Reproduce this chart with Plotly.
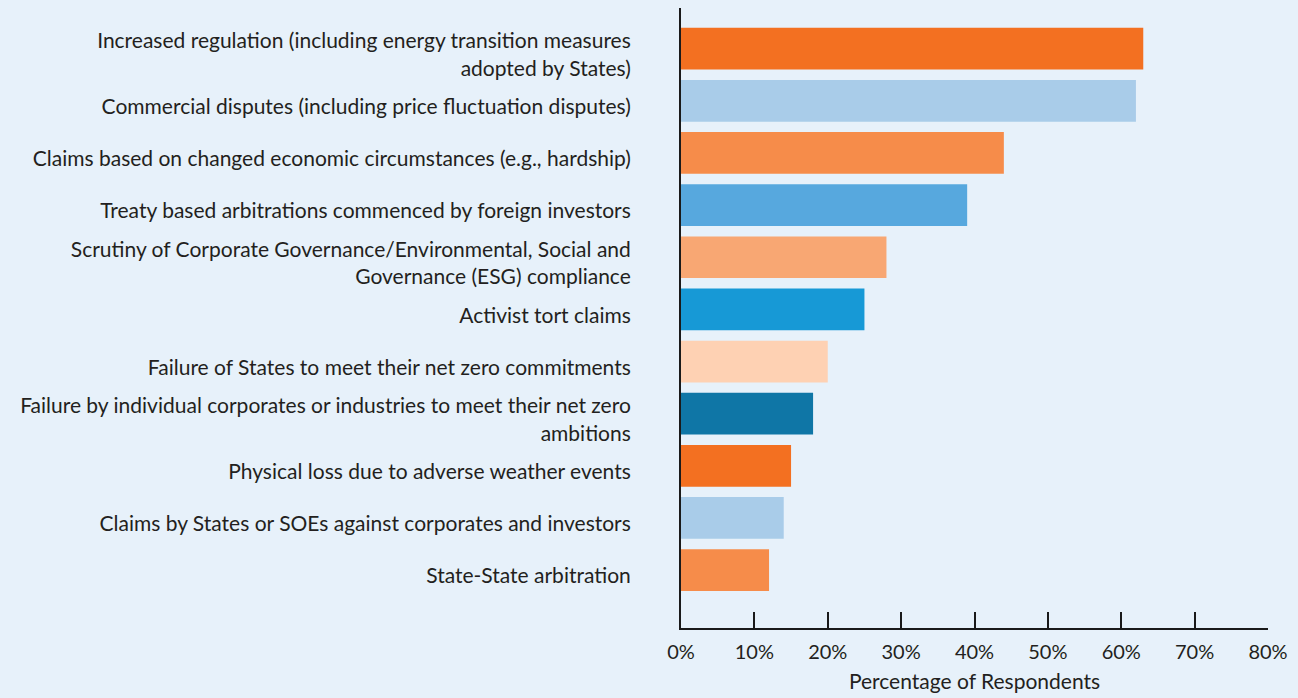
import plotly.graph_objects as go

categories = [
    "Increased regulation (including energy transition measures<br>adopted by States)",
    "Commercial disputes (including price fluctuation disputes)",
    "Claims based on changed economic circumstances (e.g., hardship)",
    "Treaty based arbitrations commenced by foreign investors",
    "Scrutiny of Corporate Governance/Environmental, Social and<br>Governance (ESG) compliance",
    "Activist tort claims",
    "Failure of States to meet their net zero commitments",
    "Failure by individual corporates or industries to meet their net zero<br>ambitions",
    "Physical loss due to adverse weather events",
    "Claims by States or SOEs against corporates and investors",
    "State-State arbitration",
]
values = [63, 62, 44, 39, 28, 25, 20, 18, 15, 14, 12]
bar_colors = ["#F37021", "#A9CCE9", "#F68C4A", "#57A8DE", "#F8A773", "#1799D6",
              "#FED1B3", "#0F76A6", "#F37021", "#A9CCE9", "#F68C4A"]
x_ticks = [0, 10, 20, 30, 40, 50, 60, 70, 80]

FONT = "Lato"
TXT = "#231F20"
BG = "#E7F1FA"

fig = go.Figure(go.Bar(
    x=values, y=categories, orientation="h",
    marker=dict(color=bar_colors, line=dict(width=0)),
    width=0.8, hoverinfo="x+y",
))

fig.update_layout(
    width=1298, height=698,
    paper_bgcolor=BG, plot_bgcolor=BG,
    margin=dict(l=681, r=30, t=8, b=68),
    font=dict(family=FONT, size=21, color=TXT),
    showlegend=False,
)
fig.update_xaxes(
    range=[0, 80], tickvals=x_ticks, ticktext=[f"{v}%" for v in x_ticks],
    ticks="inside", ticklen=16, tickwidth=2, tickcolor="#1a1a1a",
    showline=True, linecolor="#1a1a1a", linewidth=2,
    showgrid=False, zeroline=False,
    ticklabelstandoff=5,
    title=dict(text="Percentage of Respondents", font=dict(size=21, family=FONT, color=TXT), standoff=12),
    tickfont=dict(size=20, family=FONT, color=TXT),
)
fig.update_yaxes(
    type="category", categoryorder="array", categoryarray=categories,
    range=[11.11, -0.78],
    showline=True, linecolor="#1a1a1a", linewidth=2,
    showgrid=False, zeroline=False, ticks="",
    ticklabelstandoff=44, ticklabelshift=-6,
    tickfont=dict(size=21, family=FONT, color=TXT),
)

fig.write_html(
    "out.html",
    config={"displayModeBar": False},
    post_script="document.body.style.margin='0';document.body.style.overflow='hidden';",
)
